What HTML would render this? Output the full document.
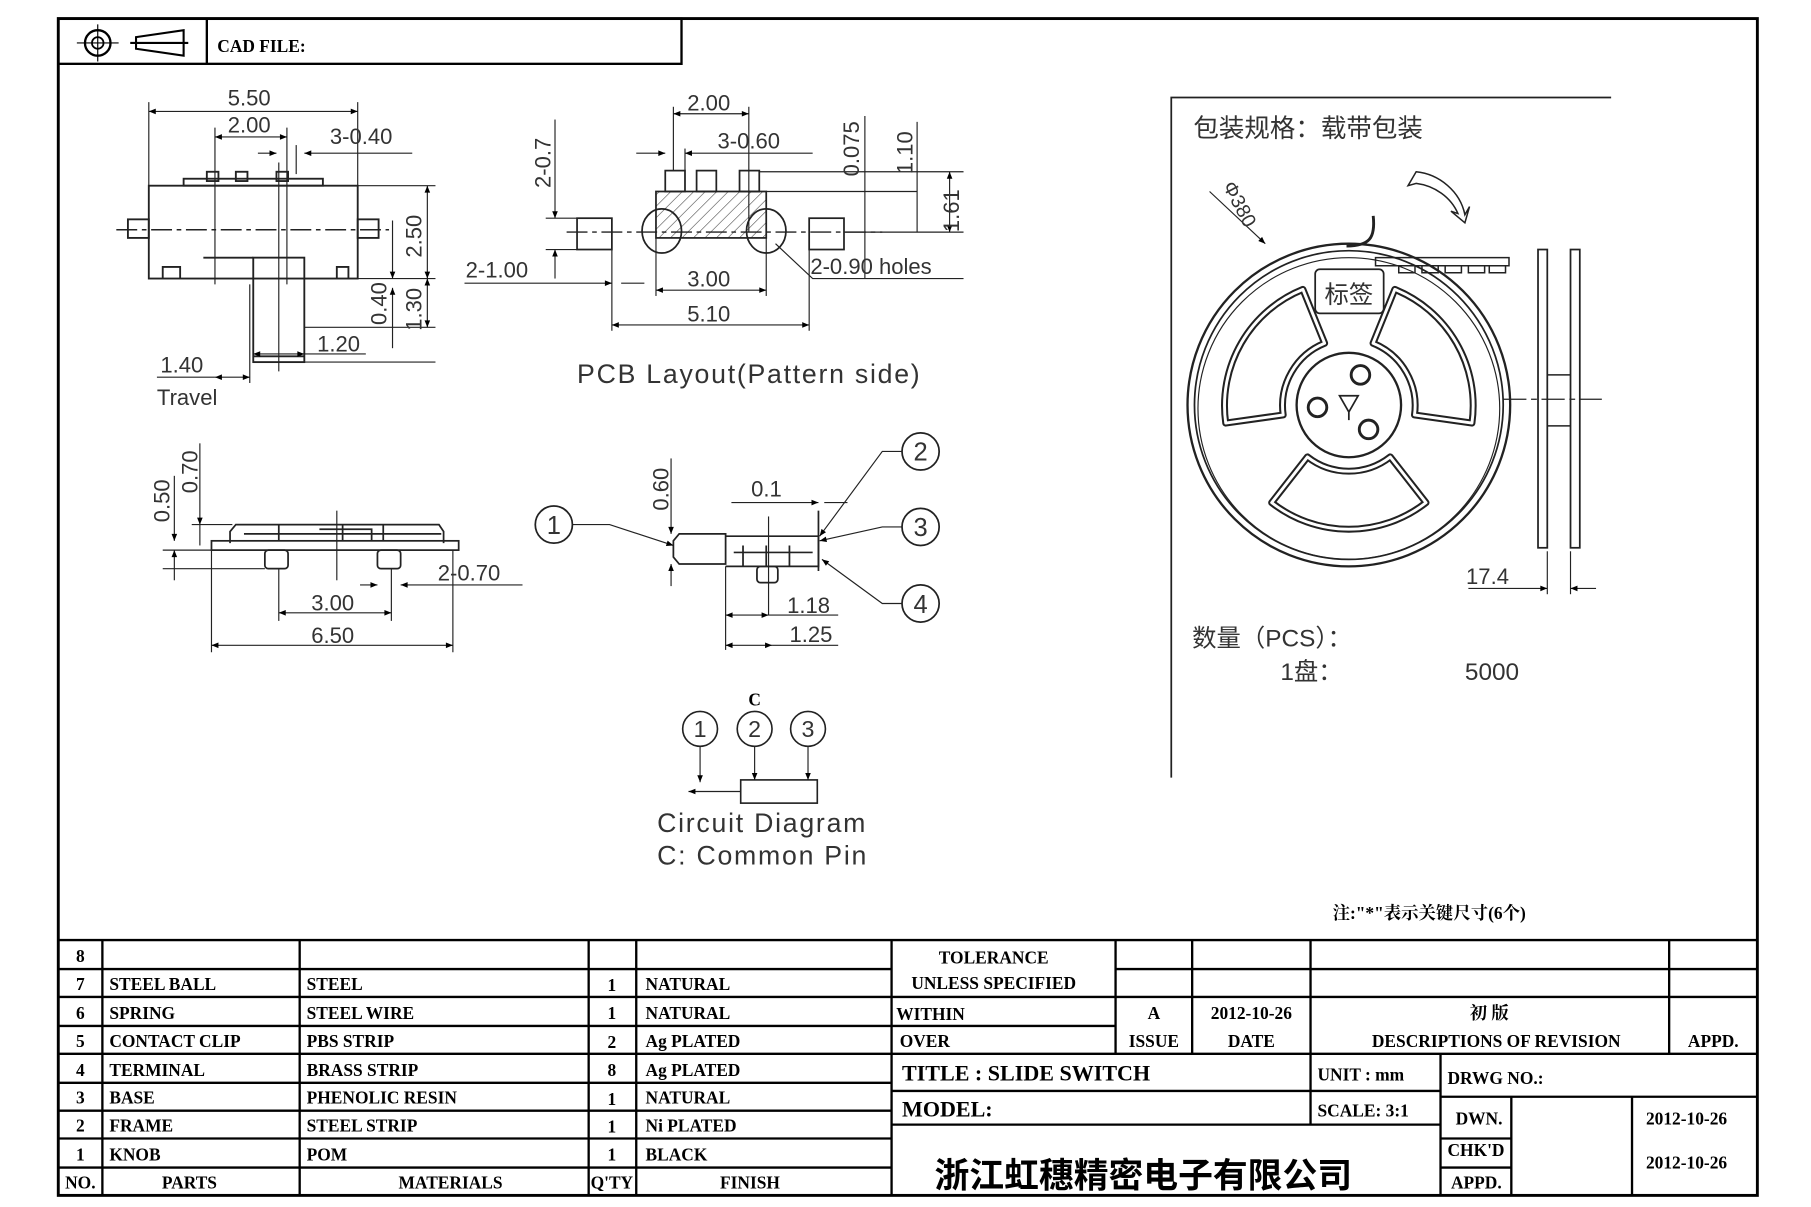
<!DOCTYPE html>
<html><head><meta charset="utf-8"><style>
html,body{margin:0;padding:0;background:#fff}
svg{display:block}
.t{font-family:"Liberation Serif","Noto Serif CJK SC",serif;font-weight:bold;font-size:15px;fill:#000}
.d{font-family:"Liberation Sans","Noto Sans CJK SC",sans-serif;font-size:19px;fill:#333}
.c{font-family:"Liberation Sans","Noto Sans CJK SC",sans-serif;fill:#333}
</style></head><body>
<svg width="1811" height="1207" viewBox="0 0 1560 1040" xmlns="http://www.w3.org/2000/svg">
<defs><marker id="a" viewBox="0 0 10 10" refX="10" refY="5" markerWidth="8" markerHeight="6" orient="auto-start-reverse"><path d="M0 1L10 5L0 9z" fill="#000"/></marker></defs>
<rect x="0" y="0" width="1560" height="1040" fill="#fff"/>
<g fill="none" stroke="#000">
<rect x="50" y="16" width="1464" height="1014" stroke-width="2.5"/>
<rect x="50" y="16" width="537" height="39" stroke-width="2"/>
<line x1="178" y1="16" x2="178" y2="55" stroke-width="2"/>
<circle cx="84" cy="37" r="11" stroke-width="2"/><circle cx="84" cy="37" r="5" stroke-width="1.5"/>
<line x1="66" y1="37" x2="102" y2="37"/><line x1="84" y1="21" x2="84" y2="53"/>
<path d="M117 32L158 26L158 48L117 42Z M112 37H162" stroke-width="1.8"/>
</g>
<text x="187" y="45" class="t" font-size="17">CAD  FILE:</text>

<!-- top view -->
<g fill="none" stroke="#222" stroke-width="1.6">
<rect x="128" y="160" width="180" height="80"/>
<rect x="110" y="189" width="18" height="16"/><rect x="308" y="189" width="18" height="16"/>
<rect x="158" y="154" width="120" height="6"/>
<rect x="178" y="148" width="10" height="8"/><rect x="203" y="148" width="10" height="8"/><rect x="238" y="148" width="10" height="8"/>
<rect x="218" y="222" width="44" height="90"/><line x1="218" y1="307" x2="262" y2="307"/>
<path d="M140 240V230H155V240M290 240V230H300V240M175 222H218"/>
<line x1="100" y1="198" x2="335" y2="198" stroke-dasharray="18 4 4 4" stroke-width="1.3"/>
<g stroke-width="1"><line x1="128" y1="88" x2="128" y2="160"/><line x1="308" y1="88" x2="308" y2="160"/>
<line x1="185" y1="110" x2="185" y2="245"/><line x1="247" y1="110" x2="247" y2="245"/>
<line x1="215" y1="245" x2="215" y2="330"/><line x1="240" y1="140" x2="240" y2="320"/><line x1="255" y1="125" x2="255" y2="150"/>
<line x1="128" y1="96" x2="308" y2="96" marker-start="url(#a)" marker-end="url(#a)"/>
<line x1="185" y1="118" x2="247" y2="118" marker-start="url(#a)" marker-end="url(#a)"/>
<line x1="222" y1="132" x2="238" y2="132" marker-end="url(#a)"/><line x1="355" y1="132" x2="262" y2="132" marker-end="url(#a)"/>
<line x1="308" y1="160" x2="375" y2="160"/><line x1="262" y1="240" x2="375" y2="240"/><line x1="262" y1="282" x2="375" y2="282"/><line x1="262" y1="312" x2="375" y2="312"/>
<line x1="368" y1="160" x2="368" y2="240" marker-start="url(#a)" marker-end="url(#a)"/>
<line x1="368" y1="240" x2="368" y2="282" marker-start="url(#a)" marker-end="url(#a)"/>
<line x1="338" y1="190" x2="338" y2="240" marker-end="url(#a)"/><line x1="338" y1="300" x2="338" y2="248" marker-end="url(#a)"/>
<line x1="218" y1="305" x2="262" y2="305" marker-start="url(#a)" marker-end="url(#a)"/><line x1="262" y1="305" x2="315" y2="305"/>
<line x1="185" y1="325" x2="215" y2="325" marker-start="url(#a)" marker-end="url(#a)"/><line x1="135" y1="325" x2="185" y2="325"/>
</g></g>
<text x="196" y="91" class="d">5.50</text><text x="196" y="114" class="d">2.00</text><text x="284" y="124" class="d">3-0.40</text>
<text class="d" transform="translate(363 222) rotate(-90)">2.50</text><text class="d" transform="translate(363 285) rotate(-90)">1.30</text><text class="d" transform="translate(333 280) rotate(-90)">0.40</text>
<text x="273" y="303" class="d">1.20</text><text x="138" y="321" class="d">1.40</text><text x="135" y="349" class="d" font-size="21">Travel</text>

<!-- PCB layout -->
<defs><pattern id="h" width="7" height="7" patternUnits="userSpaceOnUse" patternTransform="rotate(45)"><line x1="0" y1="0" x2="0" y2="7" stroke="#444" stroke-width="1"/></pattern></defs>
<g fill="none" stroke="#222" stroke-width="1.5">
<rect x="565" y="165" width="95" height="40" fill="url(#h)"/>
<rect x="573" y="147" width="17" height="18"/><rect x="600" y="147" width="17" height="18"/><rect x="637" y="147" width="17" height="18"/>
<ellipse cx="570" cy="199" rx="17" ry="19"/><ellipse cx="660" cy="199" rx="17" ry="19"/>
<rect x="497" y="188" width="30" height="27"/><rect x="697" y="188" width="30" height="27"/>
<line x1="488" y1="200" x2="760" y2="200" stroke-dasharray="18 4 4 4" stroke-width="1.2"/>
<g stroke-width="1">
<line x1="580" y1="92" x2="580" y2="147"/><line x1="645" y1="92" x2="645" y2="200"/><line x1="590" y1="128" x2="590" y2="147"/>
<line x1="580" y1="98" x2="645" y2="98" marker-start="url(#a)" marker-end="url(#a)"/>
<line x1="548" y1="132" x2="573" y2="132" marker-end="url(#a)"/><line x1="700" y1="132" x2="590" y2="132" marker-end="url(#a)"/>
<line x1="478" y1="103" x2="478" y2="188" marker-end="url(#a)"/><line x1="478" y1="240" x2="478" y2="215" marker-end="url(#a)"/>
<line x1="470" y1="188" x2="497" y2="188"/><line x1="470" y1="215" x2="497" y2="215"/>
<line x1="527" y1="215" x2="527" y2="285"/><line x1="697" y1="215" x2="697" y2="285"/><line x1="565" y1="205" x2="565" y2="255"/><line x1="660" y1="205" x2="660" y2="255"/>
<line x1="400" y1="244" x2="527" y2="244" marker-end="url(#a)"/><line x1="555" y1="244" x2="535" y2="244"/>
<line x1="565" y1="250" x2="660" y2="250" marker-start="url(#a)" marker-end="url(#a)"/>
<line x1="527" y1="280" x2="697" y2="280" marker-start="url(#a)" marker-end="url(#a)"/>
<path d="M668 210L700 240H830"/>
<line x1="654" y1="148" x2="830" y2="148"/><line x1="660" y1="165" x2="790" y2="165"/><line x1="727" y1="200" x2="830" y2="200"/>
<line x1="745" y1="100" x2="745" y2="240"/><line x1="790" y1="105" x2="790" y2="200"/>
<line x1="818" y1="148" x2="818" y2="200" marker-start="url(#a)" marker-end="url(#a)"/>
</g></g>
<text x="592" y="95" class="d">2.00</text><text x="618" y="128" class="d">3-0.60</text>
<text class="d" transform="translate(474 162) rotate(-90)">2-0.7</text>
<text x="401" y="239" class="d">2-1.00</text><text x="592" y="247" class="d">3.00</text><text x="592" y="277" class="d">5.10</text>
<text x="698" y="236" class="d">2-0.90  holes</text>
<text class="d" transform="translate(740 152) rotate(-90)">0.075</text><text class="d" transform="translate(786 150) rotate(-90)">1.10</text><text class="d" transform="translate(826 200) rotate(-90)">1.61</text>
<text x="497" y="330" class="c" font-size="23" letter-spacing="1.5">PCB  Layout(Pattern  side)</text>

<!-- side view left -->
<g fill="none" stroke="#222" stroke-width="1.5">
<path d="M198 468V458L203 452H378L382 458V468"/><rect x="182" y="466" width="213" height="8"/>
<rect x="228" y="474" width="20" height="16" rx="3"/><rect x="325" y="474" width="20" height="16" rx="3"/>
<path d="M210 460H380M240 452V466M295 452V466M330 452V466M275 456H320V466"/>
<g stroke-width="1">
<line x1="290" y1="440" x2="290" y2="500"/>
<line x1="150" y1="410" x2="150" y2="466" marker-end="url(#a)"/><line x1="150" y1="500" x2="150" y2="474" marker-end="url(#a)"/>
<line x1="172" y1="382" x2="172" y2="452" marker-end="url(#a)"/><line x1="172" y1="470" x2="172" y2="452"/>
<line x1="140" y1="474" x2="198" y2="474"/><line x1="140" y1="490" x2="228" y2="490"/><line x1="165" y1="452" x2="200" y2="452"/>
<line x1="240" y1="490" x2="240" y2="535"/><line x1="337" y1="490" x2="337" y2="535"/><line x1="182" y1="474" x2="182" y2="562"/><line x1="390" y1="474" x2="390" y2="562"/>
<line x1="240" y1="528" x2="337" y2="528" marker-start="url(#a)" marker-end="url(#a)"/>
<line x1="182" y1="556" x2="390" y2="556" marker-start="url(#a)" marker-end="url(#a)"/>
<line x1="310" y1="504" x2="325" y2="504" marker-end="url(#a)"/><line x1="450" y1="504" x2="345" y2="504" marker-end="url(#a)"/>
</g></g>
<text class="d" transform="translate(146 450) rotate(-90)">0.50</text><text class="d" transform="translate(170 425) rotate(-90)">0.70</text>
<text x="268" y="526" class="d">3.00</text><text x="268" y="554" class="d">6.50</text><text x="377" y="500" class="d">2-0.70</text>

<!-- side view middle -->
<g fill="none" stroke="#222" stroke-width="1.5">
<path d="M580 466L585 460H625V486H585L580 480Z"/><path d="M625 462H705V488H625"/><path d="M632 476H700M640 470V488M660 470V488M680 470V488"/>
<rect x="652" y="488" width="18" height="14" rx="3"/><line x1="705" y1="440" x2="705" y2="492"/>
<g stroke-width="1">
<line x1="662" y1="445" x2="662" y2="530"/>
<line x1="578" y1="395" x2="578" y2="460" marker-end="url(#a)"/><line x1="578" y1="505" x2="578" y2="486" marker-end="url(#a)"/>
<line x1="630" y1="433" x2="705" y2="433" marker-end="url(#a)"/><line x1="730" y1="433" x2="710" y2="433"/>
<line x1="625" y1="488" x2="625" y2="560"/>
<line x1="625" y1="530" x2="662" y2="530" marker-start="url(#a)" marker-end="url(#a)"/><line x1="662" y1="530" x2="722" y2="530"/>
<line x1="625" y1="556" x2="665" y2="556" marker-start="url(#a)" marker-end="url(#a)"/><line x1="665" y1="556" x2="722" y2="556"/>
<path d="M493 452H525L580 470" marker-end="url(#a)"/>
<path d="M777 389H760L706 462" marker-end="url(#a)"/>
<path d="M777 454H760L706 466" marker-end="url(#a)"/>
<path d="M777 520H760L708 482" marker-end="url(#a)"/>
</g>
<circle cx="477" cy="452" r="16"/><circle cx="793" cy="389" r="16"/><circle cx="793" cy="454" r="16"/><circle cx="793" cy="520" r="16"/>
</g>
<g class="c" font-size="22" text-anchor="middle"><text x="477" y="460">1</text><text x="793" y="397">2</text><text x="793" y="462">3</text><text x="793" y="528">4</text></g>
<text class="d" transform="translate(576 440) rotate(-90)">0.60</text><text x="647" y="428" class="d">0.1</text>
<text x="678" y="528" class="d">1.18</text><text x="680" y="553" class="d">1.25</text>

<!-- circuit -->
<g fill="none" stroke="#222" stroke-width="1.4">
<circle cx="603" cy="628" r="15"/><circle cx="650" cy="628" r="15"/><circle cx="696" cy="628" r="15"/>
<rect x="638" y="672" width="66" height="20"/>
<g stroke-width="1"><line x1="603" y1="643" x2="603" y2="674" marker-end="url(#a)"/><line x1="650" y1="643" x2="650" y2="672" marker-end="url(#a)"/><line x1="696" y1="643" x2="696" y2="672" marker-end="url(#a)"/>
<line x1="638" y1="682" x2="593" y2="682" marker-end="url(#a)"/></g>
</g>
<g class="c" font-size="20" text-anchor="middle"><text x="603" y="635">1</text><text x="650" y="635">2</text><text x="696" y="635">3</text></g>
<text x="650" y="608" class="t" font-weight="normal" font-size="19" text-anchor="middle">C</text>
<text x="566" y="717" class="c" font-size="23" letter-spacing="1.5">Circuit  Diagram</text>
<text x="566" y="745" class="c" font-size="23" letter-spacing="1.5">C:  Common  Pin</text>

<!-- reel -->
<g fill="none" stroke="#222">
<path d="M1009 670V84H1388" stroke-width="1.5"/>
<circle cx="1162" cy="349" r="139" stroke-width="2"/><circle cx="1162" cy="349" r="133" stroke-width="1.5"/><circle cx="1162" cy="352" r="130" stroke-width="1"/>
<g stroke-linejoin="round">
<g id="w"><path d="M1197.7 393.7L1228.5 433.1A108 108 0 0 1 1095.5 433.1L1126.3 393.7A58 58 0 0 0 1197.7 393.7Z" stroke-width="6"/><path d="M1197.7 393.7L1228.5 433.1A108 108 0 0 1 1095.5 433.1L1126.3 393.7A58 58 0 0 0 1197.7 393.7Z" stroke="#fff" stroke-width="2.5"/></g>
<use href="#w" transform="rotate(120 1162 349)"/><use href="#w" transform="rotate(240 1162 349)"/>
</g>
<circle cx="1162" cy="349" r="45" stroke-width="2"/>
<circle cx="1172" cy="323" r="8" stroke-width="2.5"/><circle cx="1135" cy="351" r="8" stroke-width="2.5"/><circle cx="1179" cy="370" r="8" stroke-width="2.5"/>
<path d="M1154 341L1170 341L1162 355Z M1162 355V362" stroke-width="1.5"/>
<rect x="1133" y="232" width="59" height="38" rx="4" fill="#fff" stroke-width="1.5"/>
<path d="M1183 186C1185 205 1180 212 1160 212" stroke-width="2.5"/>
<path d="M1185 222H1300V229H1185Z M1205 229v6h14v-6M1225 229v6h14v-6M1245 229v6h14v-6M1265 229v6h14v-6M1283 229v6h14v-6" stroke-width="1.3"/>
<path d="M1213 160L1220 148C1240 150 1258 165 1262 185L1266 178L1262 192L1250 182L1256 184C1250 170 1236 160 1220 158Z" stroke-width="1.3"/>
<line x1="1042" y1="165" x2="1090" y2="210" stroke-width="1" marker-end="url(#a)"/>
<rect x="1325" y="215" width="8" height="257" stroke-width="1.5"/><rect x="1353" y="215" width="8" height="257" stroke-width="1.5"/>
<path d="M1333 323H1353M1333 367H1353" stroke-width="1.3"/>
<line x1="1295" y1="344" x2="1380" y2="344" stroke-width="1" stroke-dasharray="20 4 5 4"/>
<g stroke-width="1"><line x1="1333" y1="475" x2="1333" y2="512"/><line x1="1353" y1="475" x2="1353" y2="512"/>
<line x1="1265" y1="507" x2="1333" y2="507" marker-end="url(#a)"/><line x1="1375" y1="507" x2="1353" y2="507" marker-end="url(#a)"/></g>
</g>
<text x="1028" y="118" class="c" font-size="22">包装规格：载带包装</text>
<text x="1141" y="261" class="c" font-size="21">标签</text>
<text class="c" font-size="17" transform="translate(1053 160) rotate(62)">Φ380</text>
<text x="1263" y="503" class="d">17.4</text>
<text x="1027" y="557" class="c" font-size="21">数量（PCS）：</text>
<text x="1103" y="586" class="c" font-size="21">1盘：</text>
<text x="1262" y="586" class="c" font-size="21">5000</text>
<text x="1148" y="792" class="t" font-weight="normal" font-size="16">注:"*"表示关键尺寸(6个)</text>

<!-- table -->
<g stroke="#000" stroke-width="2" fill="none">
<line x1="50" y1="810" x2="1514" y2="810"/>
<path d="M50 835H768M50 859H1514M50 884H768M50 908H1514M50 933H768M50 957H768M50 981H768M50 1006H768"/>
<path d="M961 835H1514M768 884H961M768 940H1241M1241 945H1514M1241 981H1302M1241 1006H1302M768 969H1241"/>
<path d="M88 810V1030M258 810V1030M507 810V1030M548 810V1030M768 810V1030"/>
<path d="M961 810V908M1027 810V908M1129 810V969M1438 810V908M1241 908V1030M1302 945V1030M1406 945V1030"/>
</g>
<g class="t">
<g text-anchor="middle"><text x="69" y="829">8</text><text x="69" y="853">7</text><text x="69" y="878">6</text><text x="69" y="902">5</text><text x="69" y="927">4</text><text x="69" y="951">3</text><text x="69" y="975">2</text><text x="69" y="1000">1</text><text x="69" y="1024">NO.</text>
<text x="163" y="1024">PARTS</text><text x="388" y="1024">MATERIALS</text><text x="527" y="1024">Q'TY</text><text x="646" y="1024">FINISH</text>
<text x="527" y="854">1</text><text x="527" y="878">1</text><text x="527" y="903">2</text><text x="527" y="927">8</text><text x="527" y="952">1</text><text x="527" y="976">1</text><text x="527" y="1000">1</text>
<text x="856" y="830">TOLERANCE</text><text x="856" y="852">UNLESS   SPECIFIED</text>
<text x="994" y="878">A</text><text x="1078" y="878">2012-10-26</text><text x="1283" y="878">初  版</text>
<text x="994" y="902">ISSUE</text><text x="1078" y="902">DATE</text><text x="1289" y="902">DESCRIPTIONS  OF  REVISION</text><text x="1476" y="902">APPD.</text>
</g>
<text x="94" y="853">STEEL  BALL</text><text x="94" y="878">SPRING</text><text x="94" y="902">CONTACT  CLIP</text><text x="94" y="927">TERMINAL</text><text x="94" y="951">BASE</text><text x="94" y="975">FRAME</text><text x="94" y="1000">KNOB</text>
<text x="264" y="853">STEEL</text><text x="264" y="878">STEEL  WIRE</text><text x="264" y="902">PBS  STRIP</text><text x="264" y="927">BRASS  STRIP</text><text x="264" y="951">PHENOLIC  RESIN</text><text x="264" y="975">STEEL  STRIP</text><text x="264" y="1000">POM</text>
<text x="556" y="853">NATURAL</text><text x="556" y="878">NATURAL</text><text x="556" y="902">Ag  PLATED</text><text x="556" y="927">Ag  PLATED</text><text x="556" y="951">NATURAL</text><text x="556" y="975">Ni  PLATED</text><text x="556" y="1000">BLACK</text>
<text x="772" y="879">WITHIN</text><text x="775" y="902">OVER</text>
<text x="777" y="931" font-size="19">TITLE  :  SLIDE  SWITCH</text><text x="777" y="962" font-size="19">MODEL:</text>
<text x="1135" y="931">UNIT  :   mm</text><text x="1135" y="962">SCALE:   3:1</text>
<text x="1247" y="934">DRWG  NO.:</text>
<text x="1254" y="969">DWN.</text><text x="1247" y="996">CHK'D</text><text x="1250" y="1024">APPD.</text>
<text x="1418" y="969">2012-10-26</text><text x="1418" y="1007">2012-10-26</text>
</g>
<text x="805" y="1023" font-family="'Liberation Sans','Noto Sans CJK SC',sans-serif" font-weight="bold" font-size="30" fill="#000">浙江虹穗精密电子有限公司</text>
</svg>
</body></html>
